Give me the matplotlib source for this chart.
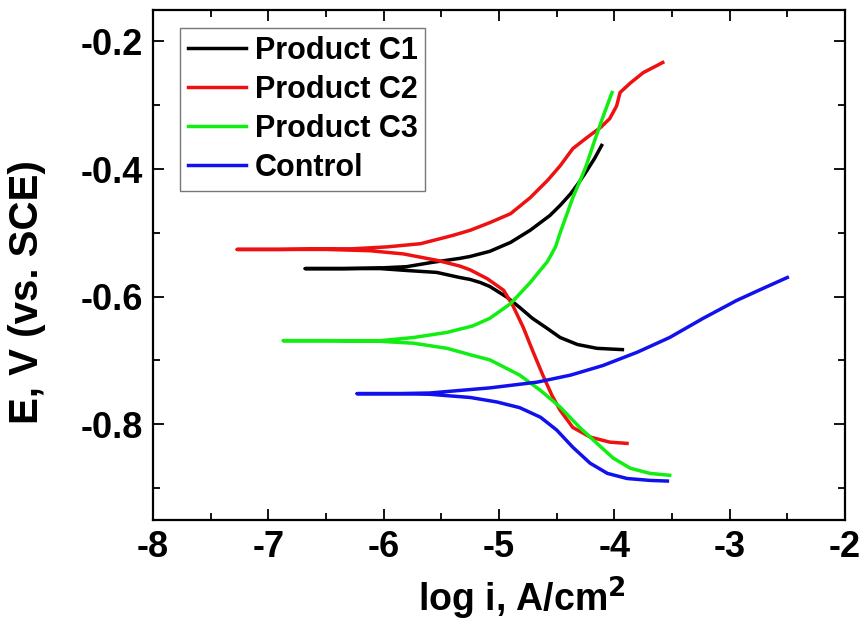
import numpy as np
import matplotlib
matplotlib.use("Agg")
import matplotlib.pyplot as plt
from matplotlib.ticker import MultipleLocator, FuncFormatter

plt.rcParams['font.family'] = ['Liberation Sans', 'DejaVu Sans']
plt.rcParams['font.weight'] = 'bold'
plt.rcParams['mathtext.default'] = 'bf'

# Tafel curves: cathodic branch (right -> Ecorr) then anodic branch (Ecorr -> right)
c1_logi = [-3.93, -4.04, -4.15, -4.32, -4.47, -4.58, -4.71, -4.82, -4.93, -5.08, -5.16, -5.25,
           -5.34, -5.54, -5.80, -6.03, -6.35, -6.68,
           -6.35, -6.03, -5.80, -5.57, -5.34, -5.25, -5.08, -4.90, -4.73, -4.56, -4.47, -4.38,
           -4.31, -4.24, -4.17, -4.11]
c1_E = [-0.683, -0.682, -0.681, -0.675, -0.664, -0.650, -0.634, -0.617, -0.601, -0.584, -0.578, -0.573,
        -0.570, -0.562, -0.559, -0.556, -0.556, -0.556,
        -0.556, -0.555, -0.553, -0.546, -0.540, -0.537, -0.529, -0.515, -0.496, -0.473, -0.457, -0.439,
        -0.422, -0.403, -0.383, -0.363]

c2_logi = [-3.89, -4.04, -4.21, -4.36, -4.47, -4.54, -4.62, -4.71, -4.79, -4.88, -4.96, -5.10,
           -5.25, -5.34, -5.54, -5.83, -6.12, -6.50, -6.90, -7.27,
           -6.90, -6.50, -6.27, -5.97, -5.68, -5.40, -5.25, -5.08, -4.90, -4.73, -4.58, -4.47,
           -4.36, -4.24, -4.12, -4.04, -3.98, -3.95, -3.86, -3.75, -3.58]
c2_E = [-0.830, -0.828, -0.820, -0.805, -0.778, -0.755, -0.723, -0.684, -0.648, -0.614, -0.590, -0.572,
        -0.558, -0.552, -0.543, -0.533, -0.528, -0.526, -0.526, -0.526,
        -0.526, -0.525, -0.525, -0.522, -0.517, -0.504, -0.496, -0.484, -0.470, -0.445, -0.418, -0.395,
        -0.368, -0.351, -0.335, -0.321, -0.301, -0.280, -0.265, -0.249, -0.233]

c3_logi = [-3.52, -3.69, -3.86, -4.01, -4.15, -4.30, -4.47, -4.64, -4.82, -5.08, -5.23, -5.45,
           -5.74, -6.03, -6.45, -6.87,
           -6.45, -6.03, -5.74, -5.45, -5.23, -5.08, -4.90, -4.73, -4.58, -4.51, -4.47, -4.36,
           -4.25, -4.17, -4.10, -4.02]
c3_E = [-0.880, -0.877, -0.869, -0.853, -0.830, -0.805, -0.773, -0.747, -0.723, -0.699, -0.692, -0.681,
        -0.673, -0.670, -0.669, -0.669,
        -0.669, -0.669, -0.664, -0.656, -0.646, -0.634, -0.611, -0.578, -0.545, -0.522, -0.500, -0.445,
        -0.398, -0.355, -0.319, -0.280]

ctrl_logi = [-3.54, -3.69, -3.89, -4.06, -4.21, -4.36, -4.50, -4.64, -4.82, -5.02, -5.25, -5.60,
             -5.90, -6.23,
             -5.90, -5.60, -5.34, -5.08, -4.67, -4.38, -4.10, -3.80, -3.52, -3.23, -2.94, -2.71,
             -2.50]
ctrl_E = [-0.889, -0.888, -0.885, -0.877, -0.861, -0.836, -0.809, -0.789, -0.774, -0.765, -0.758, -0.753,
          -0.752, -0.752,
          -0.752, -0.751, -0.747, -0.743, -0.734, -0.723, -0.708, -0.687, -0.664, -0.634, -0.606, -0.587,
          -0.570]

labels = ['Product C1', 'Product C2', 'Product C3', 'Control']
colors = ['#000000', '#ee1111', '#11ee11', '#1111ee']

fig = plt.figure(figsize=(8.61, 6.27), dpi=100)
ax = fig.add_axes([0.1777, 0.1707, 0.8037, 0.8141])

curves = [(c1_logi, c1_E), (c2_logi, c2_E), (c3_logi, c3_E), (ctrl_logi, ctrl_E)]
for (x, y), lab, col in zip(curves, labels, colors):
    ax.plot(x, y, color=col, lw=2.5, label=lab, solid_joinstyle='round')

ax.set_xlim(-8, -2)
ax.set_ylim(-0.95, -0.15)
ax.xaxis.set_major_locator(MultipleLocator(1))
ax.xaxis.set_minor_locator(MultipleLocator(0.5))
ax.yaxis.set_major_locator(MultipleLocator(0.2))
ax.yaxis.set_minor_locator(MultipleLocator(0.1))
ax.yaxis.set_major_formatter(FuncFormatter(lambda v, p: f'{v:.1f}'))
ax.xaxis.set_major_formatter(FuncFormatter(lambda v, p: f'{v:.0f}'))

ax.tick_params(which='both', direction='in', top=True, right=True, width=1.3)
ax.tick_params(which='major', length=8, labelsize=26, pad=7)
ax.tick_params(which='minor', length=5)
for s in ax.spines.values():
    s.set_linewidth(1.6)

ax.set_xlabel('log i, A/cm$^{2}$', fontsize=27, fontweight='bold')
ax.set_ylabel('E, V (vs. SCE)', fontsize=29, fontweight='bold')
ax.xaxis.set_label_coords(0.533, -0.108)
ax.yaxis.set_label_coords(-0.155, 0.447)

leg = ax.legend(loc='upper left', bbox_to_anchor=(0.039, 0.964), borderaxespad=0,
                fontsize=22, handlelength=1.9, handletextpad=0.3, labelspacing=0.3,
                fancybox=False, frameon=True, borderpad=0.25)
leg.get_frame().set_edgecolor('#555555')
leg.get_frame().set_linewidth(1.0)
for t in leg.get_texts():
    t.set_fontweight('bold')

fig.savefig('out.png', dpi=100)
